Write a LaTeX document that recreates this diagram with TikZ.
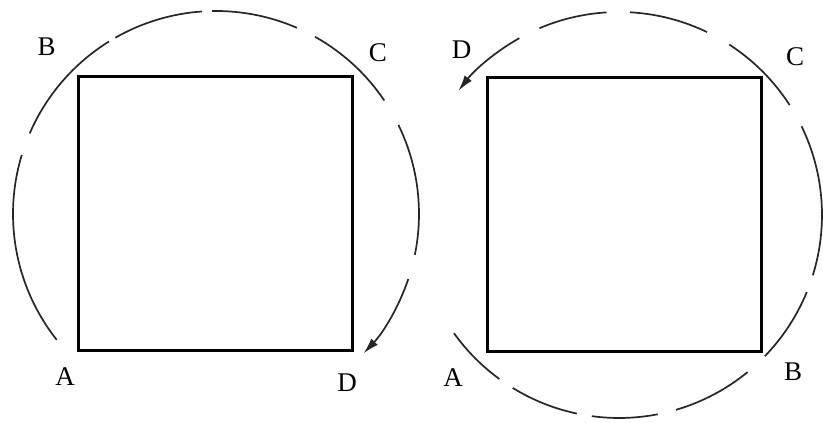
\documentclass[tikz,border=0pt]{standalone}
\usepackage{fontspec}
\setmainfont{Liberation Serif}
\usetikzlibrary{arrows.meta}
\begin{document}
\begin{tikzpicture}[x=1pt,y=1pt,
  sq/.style={draw, line width=3pt, line join=miter, minimum width=274pt, minimum height=274pt, inner sep=0pt, outer sep=0pt},
  circ/.style={line width=1.7pt, black!85},
  arr/.style={circ, -{Latex[length=16pt,width=9pt]}},
  lbl/.style={font=\fontsize{27}{30}\selectfont, inner sep=0pt}]
\useasboundingbox (0,0) rectangle (823,423);
\coordinate (L) at (216,209);
\coordinate (R) at (619,208);
% squares
\node[sq] (sqL) at (215,209.6) {};
\node[sq] (sqR) at (624,208.5) {};
% left circle, clockwise A -> B -> C -> D
\foreach \a/\b in {218.3/163.1, 156.6/121.8, 119.7/94, 91.1/66.5, 60.8/34, 26/-11.6}
  \draw[circ] (L) ++(\a:203) arc[start angle=\a, end angle=\b, radius=203];
\draw[arr] (L) ++(-18.7:203) arc[start angle=-18.7, end angle=-43.4, radius=203];
% right circle, counterclockwise A -> B -> C -> D
\foreach \a/\b in {215.6/233.9, 238.4/258, 262.3/281, 286.3/309.3, 315.9/337.7, 342.7/385.9, 32.8/57.1, 64.3/86.9, 93.5/113.1}
  \draw[circ] (R) ++(\a:203) arc[start angle=\a, end angle=\b, radius=203];
\draw[arr] (R) ++(119.4:203) arc[start angle=119.4, end angle=142.3, radius=203];
% labels
\node[lbl] (lA) at (65,46) {A};
\node[lbl] (lB) at (46.7,376.3) {B};
\node[lbl] (lC) at (378,370) {C};
\node[lbl] (lD) at (347,40) {D};
\node[lbl] (rA) at (453,45) {A};
\node[lbl] (rB) at (793,51) {B};
\node[lbl] (rC) at (795,366.3) {C};
\node[lbl] (rD) at (461.7,373) {D};
\end{tikzpicture}
\end{document}
